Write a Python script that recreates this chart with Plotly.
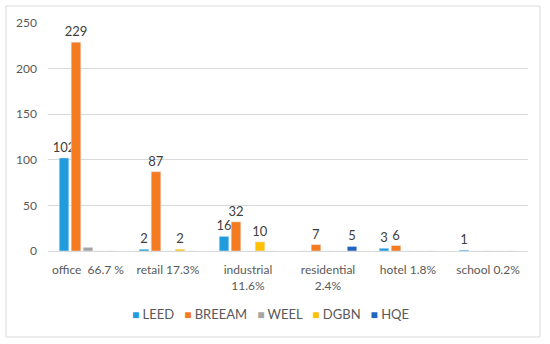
import plotly.graph_objects as go

categories = ["office  66.7 %", "retail 17.3%", "industrial<br>11.6%", "residential<br>2.4%", "hotel 1.8%", "school 0.2%"]
series_names = ["LEED", "BREEAM", "WEEL", "DGBN", "HQE"]
leed = [102, 2, 16, 0, 3, 1]
breeam = [229, 87, 32, 7, 6, 0]
weel = [4, 0, 0, 0, 0, 0]
dgbn = [0, 2, 10, 0, 0, 0]
hqe = [0, 0, 0, 5, 0, 0]
show_labels = [True, True, False, True, True]
colors = ["#1F9BDE", "#F47B20", "#A5A5A5", "#FFC000", "#1F66C0"]
y_ticks = [0, 50, 100, 150, 200, 250]

fig = go.Figure()
for name, vals, show, col in zip(series_names, [leed, breeam, weel, dgbn, hqe], show_labels, colors):
    txt = [str(v) if (show and v > 0) else "" for v in vals]
    fig.add_trace(go.Bar(
        name=name, x=categories, y=vals, marker_color=col,
        text=txt, textposition="outside", cliponaxis=False, constraintext="none",
        textfont=dict(family="Lato", size=13, color="#404040"),
        showlegend=False,
    ))

W, H = 550, 344
L, R, T, B = 48, 528, 23, 251
def px(x):
    return (x - L) / (R - L)
def py(y):
    return (B - y) / (B - T)

legend_text = "&nbsp;&nbsp;&nbsp;".join(
    f"<span style='color:{c};font-size:12px'>■</span> {n}" for n, c in zip(series_names, colors)
)

fig.update_layout(
    width=W, height=H,
    margin=dict(l=L, r=W - R, t=T, b=H - B, autoexpand=False),
    barmode="group", bargap=0.25, bargroupgap=0.2,
    plot_bgcolor="white", paper_bgcolor="white",
    font=dict(family="Lato", size=12, color="#595959"),
    annotations=[dict(text=legend_text, xref="paper", yref="paper", x=px(270), y=py(314),
                      xanchor="center", yanchor="middle", showarrow=False,
                      font=dict(family="Lato", size=13, color="#595959"))],
    shapes=[dict(type="rect", xref="paper", yref="paper",
                 x0=px(6), x1=px(540), y0=py(337), y1=py(6),
                 line=dict(color="#D9D9D9", width=1), fillcolor="rgba(0,0,0,0)", layer="below")],
)
fig.update_xaxes(showgrid=False, showline=True, linecolor="#D9D9D9", linewidth=1,
                 ticks="", ticklabelstandoff=8, tickfont=dict(size=12, color="#595959"))
fig.update_yaxes(range=[0, 250], tickvals=y_ticks, showgrid=True, gridcolor="#D9D9D9",
                 zeroline=False, showline=False, ticks="", ticklabelstandoff=10,
                 tickfont=dict(size=12, color="#595959"))

fig.write_html("out.html", config={"displayModeBar": False},
               post_script="document.body.style.margin='0';")
